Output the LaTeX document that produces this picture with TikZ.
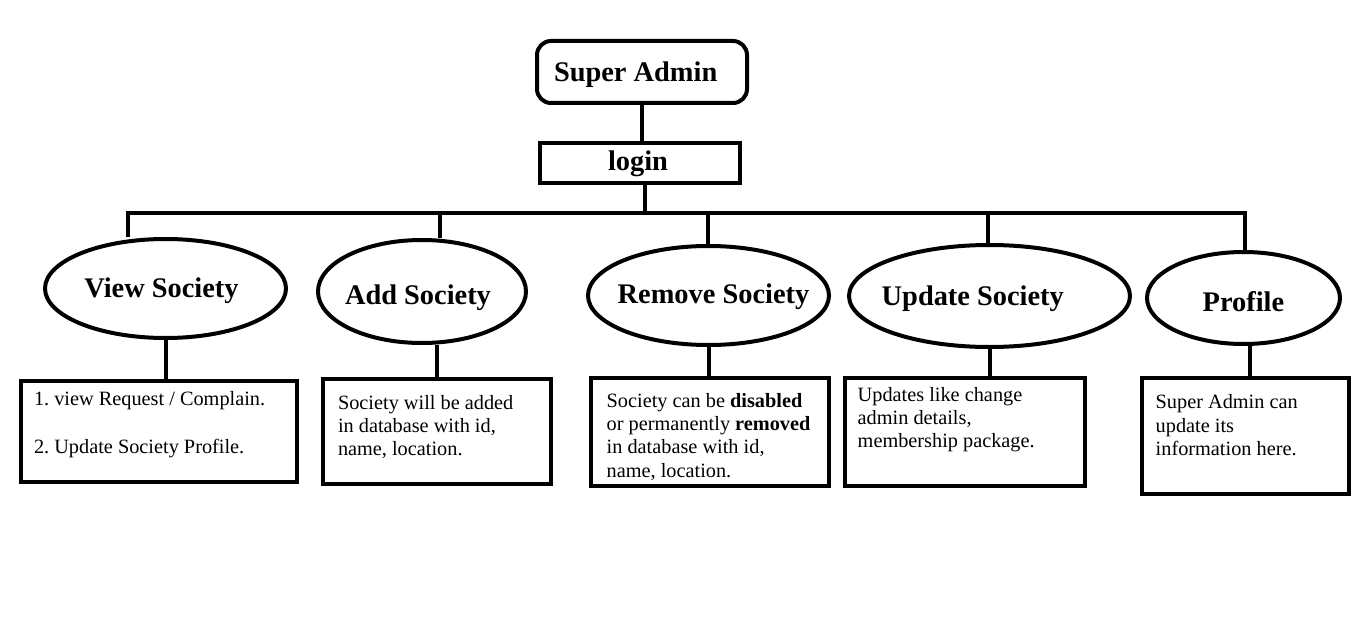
\documentclass[tikz,border=0pt]{standalone}
\usepackage{fontspec}
\setmainfont{Liberation Serif}
\usetikzlibrary{shapes.geometric}
\frenchspacing
\newcommand\placetxt[3]{\makebox[0pt][l]{\hspace*{#1}\raisebox{#2}[0pt][0pt]{#3}}}
\newcommand\txtlines[1]{\begin{tabular}[t]{@{}l@{}}#1\end{tabular}}
\begin{document}
\begin{tikzpicture}[x=1pt,y=-1pt,
  every node/.style={inner sep=0pt, line width=4pt},
  ttl/.style={font=\bfseries\fontsize{28.4}{34}\selectfont},
  oval/.style={draw, ellipse, ttl},
  titlebox/.style={draw, rectangle, ttl},
  descbox/.style={draw, rectangle, font=\fontsize{20.3}{23.4}\selectfont},
  conn/.style={line width=4pt}]
\path[fill=white, use as bounding box] (0,0) rectangle (1358,623);

% top
\node[titlebox, rounded corners=14pt, minimum width=210pt, minimum height=62pt] (sa) at (642,72)
  {\placetxt{-88pt}{-9.7pt}{Super Admin}};
\node[titlebox, minimum width=200pt, minimum height=40pt] (login) at (640,163)
  {\placetxt{-32pt}{-8pt}{login}};

% ellipses
\node[oval, minimum width=241pt, minimum height=99pt] (view) at (165.5,288.5)
  {\placetxt{-81.2pt}{-9.2pt}{View Society}};
\node[oval, minimum width=208pt, minimum height=103pt] (add) at (422,291.5)
  {\placetxt{-77pt}{-12.5pt}{Add Society}};
\node[oval, minimum width=241pt, minimum height=99pt] (rem) at (708.5,295.5)
  {\placetxt{-90.8pt}{-7.8pt}{Remove Society}};
\node[oval, minimum width=281pt, minimum height=102pt] (upd) at (989.5,296)
  {\placetxt{-107.8pt}{-9pt}{Update Society}};
\node[oval, minimum width=193pt, minimum height=92pt] (prof) at (1243.5,298)
  {\placetxt{-40.8pt}{-13.7pt}{Profile}};

% description boxes
\node[descbox, minimum width=276pt, minimum height=101pt] (b1) at (159,431.5)
  {\placetxt{-125pt}{26.5pt}{\txtlines{1. view Request / Complain.\\[25pt] 2. Update Society Profile.}}};
\node[descbox, minimum width=228pt, minimum height=105pt] (b2) at (437,431.5)
  {\placetxt{-99pt}{22.5pt}{\txtlines{Society will be added\\ in database with id,\\ name, location.}}};
\node[descbox, minimum width=238pt, minimum height=108pt] (b3) at (710,432)
  {\placetxt{-103.3pt}{25pt}{\txtlines{Society can be \textbf{disabled}\\ or permanently \textbf{removed}\\ in database with id,\\ name, location.}}};
\node[descbox, minimum width=240pt, minimum height=108pt] (b4) at (965,432)
  {\placetxt{-107.3pt}{31pt}{\txtlines{Updates like change\\ admin details,\\ membership package.}}};
\node[descbox, minimum width=207pt, minimum height=116pt] (b5) at (1245.5,436)
  {\placetxt{-89.8pt}{27.3pt}{\txtlines{Super Admin can\\ update its\\ information here.}}};

% connectors
\coordinate (jn) at (645,213);
\coordinate (d1) at (128,213);
\coordinate (d2) at (440,213);
\coordinate (d3) at (708,213);
\coordinate (d4) at (988,213);
\coordinate (d5) at (1245,213);

\draw[conn] (sa.south) -- (sa.south |- login.north);
\draw[conn] (login.south -| jn) -- (jn);
\draw[conn] (d1 |- view.north) -- (d1) -- (d5) -- (d5 |- prof.north);
\draw[conn] (d2) -- (d2 |- add.north);
\draw[conn] (d3) -- (d3 |- rem.north);
\draw[conn] (d4) -- (d4 |- upd.north);

\draw[conn] (view.south) -- (view.south |- b1.north);
\draw[conn] (b2.north |- add.south) -- (b2.north);
\draw[conn] (rem.south) -- (rem.south |- b3.north);
\draw[conn] (upd.south) -- (upd.south |- b4.north);
\draw[conn] ([xshift=6pt]prof.south) -- ([xshift=6pt]prof.south |- b5.north);
\end{tikzpicture}
\end{document}
